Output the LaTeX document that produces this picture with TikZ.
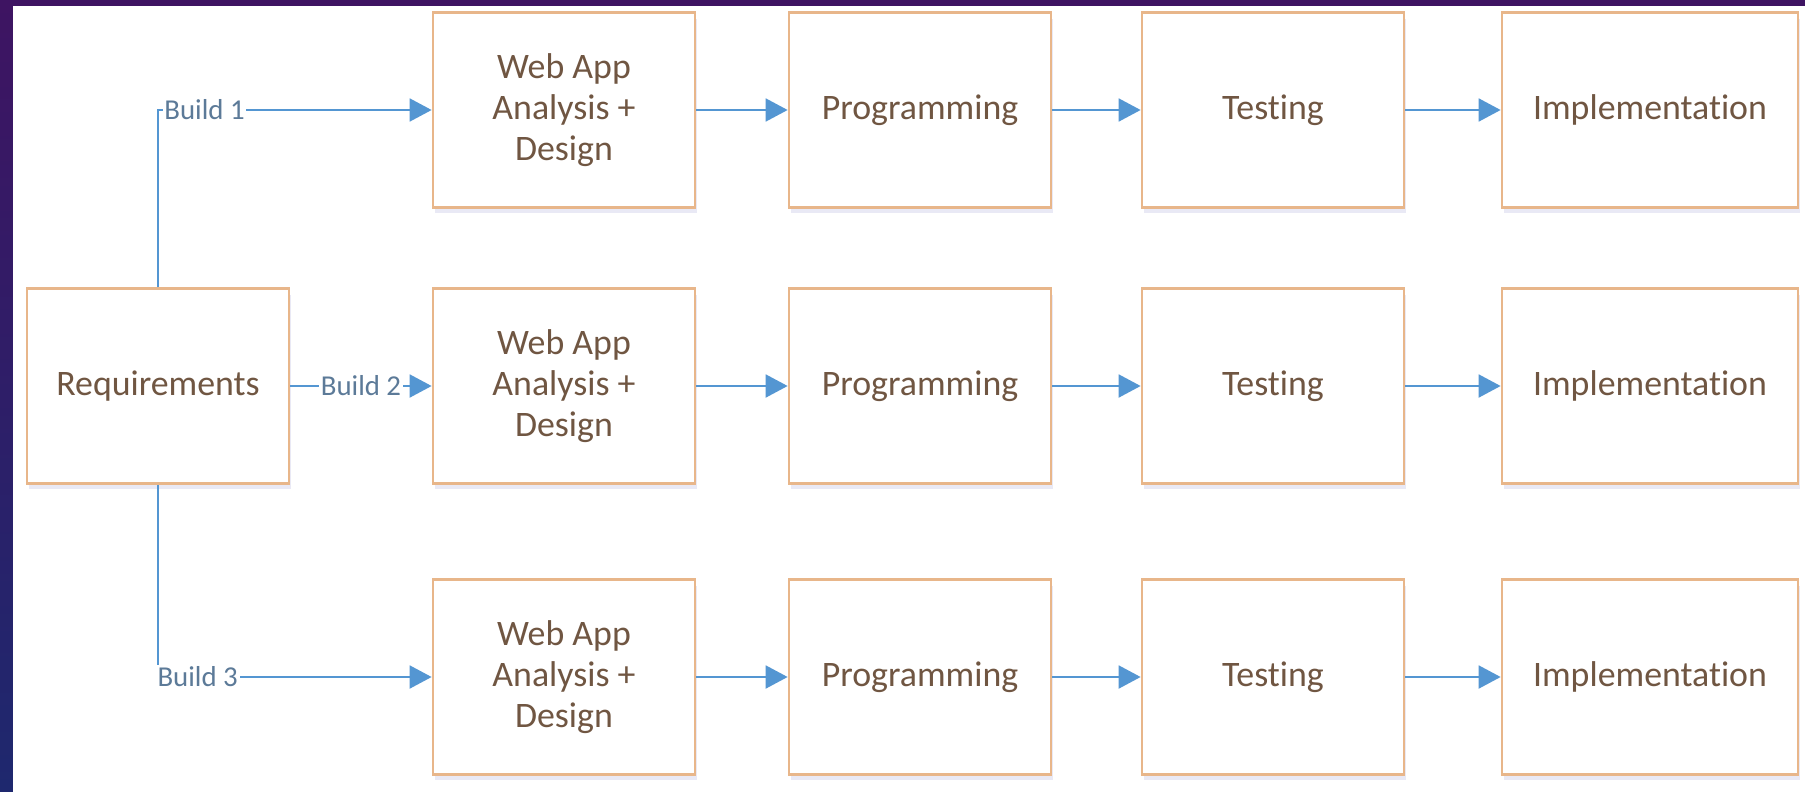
\documentclass[tikz,border=0pt]{standalone}
\usepackage{fontspec}
\setmainfont{Carlito}[Ligatures=NoCommon]
\usetikzlibrary{arrows.meta, shadows}
\definecolor{boxline}{RGB}{232,182,138}
\definecolor{flowblue}{RGB}{84,150,210}
\definecolor{buildtext}{RGB}{92,122,152}
\definecolor{steptext}{RGB}{112,86,66}
\definecolor{slidetop}{RGB}{62,20,98}
\definecolor{slidebottom}{RGB}{30,40,110}
\tikzset{
  phase box/.style={
    draw=boxline,
    line width=1.6pt,
    fill=white,
    text=steptext,
    align=center,
    minimum height=3.9cm,
    minimum width=5.24cm,
    font=\fontsize{20.4}{23.5}\selectfont,
    drop shadow={opacity=0.12, shadow xshift=0.4mm, shadow yshift=-1.2mm, fill=blue!40!gray},
  },
  flow/.style={
    draw=flowblue,
    line width=1.1pt,
    -{Triangle[length=0.44cm, width=0.46cm]},
  },
  build label/.style={
    fill=white,
    text=buildtext,
    inner sep=1pt,
    font=\fontsize{16.4}{19}\selectfont,
  },
}

\begin{document}
\begin{tikzpicture}[x=0.02cm, y=-0.02cm]
        \useasboundingbox (0,0) rectangle (1805,791);
        \shade[top color=slidetop, bottom color=slidebottom] (0,0) rectangle (1805,791);
        \fill[white] (13,6) rectangle (1815,800);

        \node[phase box] (req) at (158,386) {Requirements};

        \node[phase box] (web1) at (564,110) {Web App\\Analysis +\\Design};
        \node[phase box] (web2) at (564,386) {Web App\\Analysis +\\Design};
        \node[phase box] (web3) at (564,677) {Web App\\Analysis +\\Design};

        \node[phase box] (prog1) at (920,110) {Programming};
        \node[phase box] (prog2) at (920,386) {Programming};
        \node[phase box] (prog3) at (920,677) {Programming};

        \node[phase box] (test1) at (1273,110) {Testing};
        \node[phase box] (test2) at (1273,386) {Testing};
        \node[phase box] (test3) at (1273,677) {Testing};

        \node[phase box, minimum width=5.92cm] (impl1) at (1650,110) {Implementation};
        \node[phase box, minimum width=5.92cm] (impl2) at (1650,386) {Implementation};
        \node[phase box, minimum width=5.92cm] (impl3) at (1650,677) {Implementation};

        \draw[flow] (req.north) |- (web1.west) node[build label, pos=0.585] {Build 1};
        \draw[flow] (req.east) -- (web2.west) node[build label, midway] {Build 2};
        \draw[flow] (req.south) |- (web3.west) node[build label, pos=0.5725] {Build 3};

        \draw[flow] (web1) -- (prog1);
        \draw[flow] (web2) -- (prog2);
        \draw[flow] (web3) -- (prog3);

        \draw[flow] (prog1) -- (test1);
        \draw[flow] (prog2) -- (test2);
        \draw[flow] (prog3) -- (test3);

        \draw[flow] (test1) -- (impl1);
        \draw[flow] (test2) -- (impl2);
        \draw[flow] (test3) -- (impl3);
      \end{tikzpicture}
\end{document}
